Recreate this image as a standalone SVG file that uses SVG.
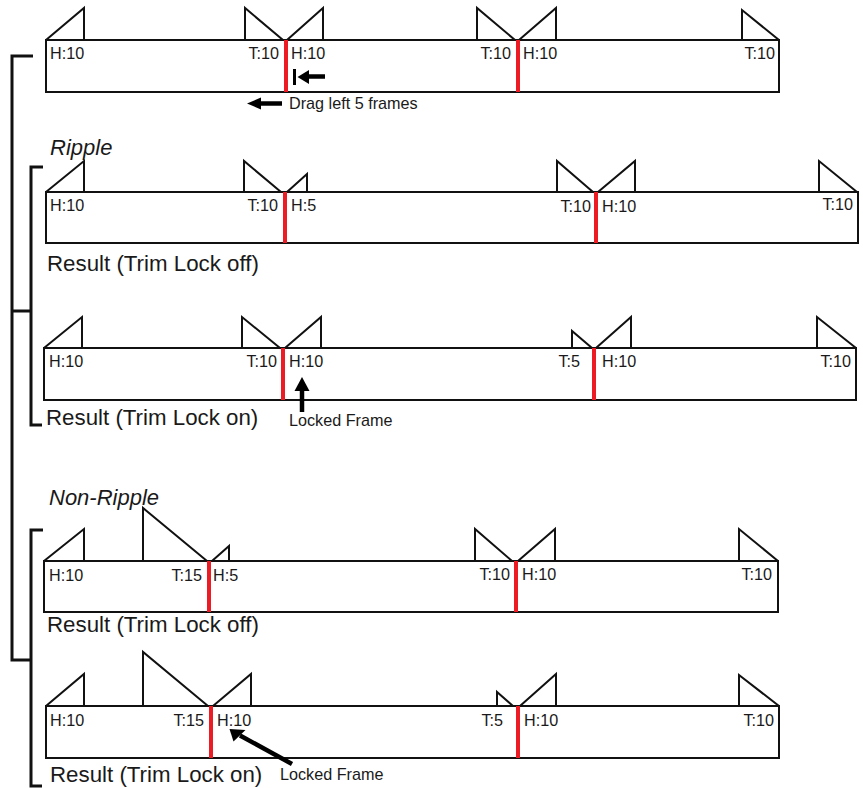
<svg xmlns="http://www.w3.org/2000/svg" width="863" height="788" viewBox="0 0 863 788">
<style>
.clip{fill:#fff;stroke:#111;stroke-width:2}
.tri{fill:none;stroke:#111;stroke-width:2;stroke-linejoin:miter}
.cut{stroke:#ed1c24;stroke-width:4}
.lbl{font-family:"Liberation Sans",Arial,sans-serif;font-size:16.2px;fill:#1a1a1a}
.end{text-anchor:end}
.big{font-family:"Liberation Sans",Arial,sans-serif;font-size:22.3px;fill:#1a1a1a}
.it{font-style:italic;font-size:22px}
.note{font-family:"Liberation Sans",Arial,sans-serif;font-size:16.2px;fill:#1a1a1a}
.br{fill:none;stroke:#111;stroke-width:3}
.shaft{stroke:#000;stroke-width:4.5}
.head{fill:#000}
</style>
<rect width="863" height="788" fill="#fff"/>

<g id="brackets">
<path class="br" d="M33,56 H12 V660 H31 M12,311 H31"/>
<path class="br" d="M43,167 H31 V425 H42"/>
<path class="br" d="M43,530 H31 V786 H42"/>
</g>

<g id="row1">
<rect class="clip" x="46" y="40" width="733" height="52"/>
<path class="tri" d="M46,40 L84,8 V40 M245,40 V8 L283,40 M287,40 L323,8 V40 M477,40 V8 L515,40 M519,40 L556,8 V40 M742,40 V10 L779,40"/>
<line class="cut" x1="286" y1="40" x2="286" y2="92"/>
<line class="cut" x1="518" y1="40" x2="518" y2="92"/>
<text class="lbl" x="50" y="59">H:10</text>
<text class="lbl end" x="279" y="59">T:10</text>
<text class="lbl" x="291" y="59">H:10</text>
<text class="lbl end" x="511" y="59">T:10</text>
<text class="lbl" x="523" y="59">H:10</text>
<text class="lbl end" x="775" y="59">T:10</text>
</g>

<text class="big it" x="50" y="155">Ripple</text>

<g id="row2">
<rect class="clip" x="46" y="192" width="812" height="51"/>
<path class="tri" d="M46,192 L84,161 V192 M244,192 V161 L281,192 M287,192 L307,174 V192 M557,192 V161 L593,192 M598,192 L635,161 V192 M819,192 V161 L857,192"/>
<line class="cut" x1="285" y1="192" x2="285" y2="243"/>
<line class="cut" x1="596" y1="192" x2="596" y2="243"/>
<text class="lbl" x="50" y="211">H:10</text>
<text class="lbl end" x="278" y="211">T:10</text>
<text class="lbl" x="291" y="211">H:5</text>
<text class="lbl end" x="591" y="211.5">T:10</text>
<text class="lbl" x="602" y="211.5">H:10</text>
<text class="lbl end" x="853" y="210">T:10</text>
</g>
<text class="big" x="47" y="271">Result (Trim Lock off)</text>

<g id="row3">
<rect class="clip" x="44" y="348" width="812" height="52"/>
<path class="tri" d="M44,348 L82,317 V348 M242,348 V317 L280,348 M285,348 L321,317 V348 M572,348 V331 L592,348 M596,348 L631,317 V348 M817,348 V317 L856,348"/>
<line class="cut" x1="283" y1="348" x2="283" y2="400"/>
<line class="cut" x1="594" y1="348" x2="594" y2="400"/>
<text class="lbl" x="49" y="367">H:10</text>
<text class="lbl end" x="277" y="367">T:10</text>
<text class="lbl" x="289" y="367">H:10</text>
<text class="lbl end" x="580" y="367">T:5</text>
<text class="lbl" x="602" y="367">H:10</text>
<text class="lbl end" x="851" y="367">T:10</text>
</g>
<text class="big" x="46" y="425">Result (Trim Lock on)</text>
<text class="note" x="289" y="426">Locked Frame</text>

<text class="big it" x="49" y="505">Non-Ripple</text>

<g id="row4">
<rect class="clip" x="44" y="561" width="734" height="51"/>
<path class="tri" d="M44,561 L84,529 V561 M143,561 V508 L207,561 M212,561 L229,546 V561 M475,561 V529 L512,561 M518,561 L555,529 V561 M739,561 V529 L778,561"/>
<line class="cut" x1="209" y1="561" x2="209" y2="612"/>
<line class="cut" x1="516" y1="561" x2="516" y2="612"/>
<text class="lbl" x="49" y="580.5">H:10</text>
<text class="lbl end" x="202" y="580.5">T:15</text>
<text class="lbl" x="213" y="580.5">H:5</text>
<text class="lbl end" x="510" y="580">T:10</text>
<text class="lbl" x="522" y="580">H:10</text>
<text class="lbl end" x="772" y="580">T:10</text>
</g>
<text class="big" x="47" y="632">Result (Trim Lock off)</text>

<g id="row5">
<rect class="clip" x="46" y="706" width="733" height="52"/>
<path class="tri" d="M46,706 L84,674 V706 M143,706 V652 L208,706 M213,706 L251,674 V706 M497,706 V692 L513,706 M520,706 L556,674 V706 M739,706 V675 L779,706"/>
<line class="cut" x1="211" y1="706" x2="211" y2="758"/>
<line class="cut" x1="518" y1="706" x2="518" y2="758"/>
<text class="lbl" x="50" y="725.5">H:10</text>
<text class="lbl end" x="204" y="725.5">T:15</text>
<text class="lbl" x="217" y="725.5">H:10</text>
<text class="lbl end" x="503" y="725.5">T:5</text>
<text class="lbl" x="524" y="725.5">H:10</text>
<text class="lbl end" x="774" y="725.5">T:10</text>
</g>
<text class="big" x="50" y="782">Result (Trim Lock on)</text>
<text class="note" x="280" y="780">Locked Frame</text>

<g id="connectors">
<rect x="293" y="69" width="3" height="16" fill="#000"/>
<line class="shaft" x1="307" y1="76.5" x2="325" y2="76.5"/>
<polygon class="head" points="297.5,77 309,70 309,84"/>
<line class="shaft" x1="259" y1="103.5" x2="282" y2="103.5"/>
<polygon class="head" points="247,103.5 261,97.5 261,109.5"/>
<line class="shaft" x1="302" y1="388" x2="302" y2="412"/>
<polygon class="head" points="302,377 294.5,391 309.5,391"/>
<line class="shaft" x1="240" y1="735.5" x2="292" y2="764"/>
<polygon class="head" points="229.5,729 233.5,741.5 245.5,730"/>
<text class="note" x="289" y="109">Drag left 5 frames</text>
</g>
</svg>
